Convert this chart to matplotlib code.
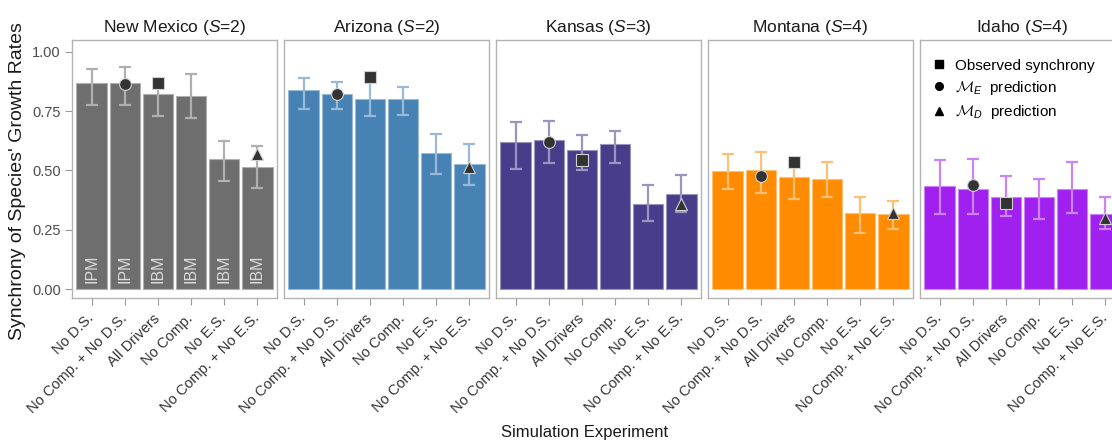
import matplotlib
matplotlib.use("Agg")
import matplotlib.pyplot as plt
from matplotlib.lines import Line2D
import matplotlib.colors as mcolors
import numpy as np

plt.rcParams['font.family'] = ['Liberation Sans', 'DejaVu Sans']
plt.rcParams['mathtext.fontset'] = 'custom'
plt.rcParams['mathtext.rm'] = 'Liberation Sans'
plt.rcParams['mathtext.it'] = 'Liberation Sans:italic'
plt.rcParams['mathtext.cal'] = 'cmsy10'

experiments = ["No D.S.", "No Comp. + No D.S.", "All Drivers", "No Comp.",
               "No E.S.", "No Comp. + No E.S."]
sites = ["New Mexico", "Arizona", "Kansas", "Montana", "Idaho"]
richness = [2, 2, 3, 4, 4]
bar_colors = ["#6e6e6e", "#4682B4", "#483D8B", "#FF8C00", "#A020F0"]
model_labels_nm = ["IPM", "IPM", "IBM", "IBM", "IBM", "IBM"]

bar_values = {
    "New Mexico": [0.867, 0.867, 0.822, 0.813, 0.550, 0.516],
    "Arizona":    [0.839, 0.821, 0.802, 0.802, 0.575, 0.529],
    "Kansas":     [0.620, 0.627, 0.585, 0.613, 0.360, 0.400],
    "Montana":    [0.497, 0.502, 0.473, 0.466, 0.320, 0.318],
    "Idaho":      [0.435, 0.421, 0.387, 0.387, 0.421, 0.317],
}
err_upper = {
    "New Mexico": [0.926, 0.934, 0.870, 0.906, 0.624, 0.603],
    "Arizona":    [0.891, 0.871, 0.880, 0.853, 0.654, 0.610],
    "Kansas":     [0.703, 0.708, 0.651, 0.666, 0.438, 0.482],
    "Montana":    [0.571, 0.577, 0.530, 0.537, 0.390, 0.373],
    "Idaho":      [0.543, 0.547, 0.477, 0.463, 0.534, 0.390],
}
err_lower = {
    "New Mexico": [0.776, 0.776, 0.729, 0.720, 0.457, 0.428],
    "Arizona":    [0.758, 0.758, 0.729, 0.734, 0.485, 0.439],
    "Kansas":     [0.505, 0.530, 0.502, 0.530, 0.289, 0.327],
    "Montana":    [0.421, 0.407, 0.380, 0.390, 0.236, 0.253],
    "Idaho":      [0.317, 0.317, 0.308, 0.296, 0.320, 0.253],
}
observed = {"New Mexico": 0.867, "Arizona": 0.893, "Kansas": 0.544,
            "Montana": 0.534, "Idaho": 0.365}
pred_E = {"New Mexico": 0.862, "Arizona": 0.821, "Kansas": 0.620,
          "Montana": 0.477, "Idaho": 0.439}
pred_D = {"New Mexico": 0.569, "Arizona": 0.516, "Kansas": 0.358,
          "Montana": 0.320, "Idaho": 0.299}

yticks = [0.0, 0.25, 0.5, 0.75, 1.0]
ytick_labels = ["0.00", "0.25", "0.50", "0.75", "1.00"]


def tint(c, f):
    r, g, b = mcolors.to_rgb(c)
    return (r + (1 - r) * f, g + (1 - g) * f, b + (1 - b) * f)


W, H = 1112, 441
fig = plt.figure(figsize=(W / 100, H / 100), dpi=100)

left0, spacing, pw = 72, 212, 205
top_px, bot_px = 40, 298.3
border_col = "#b3b3b3"
x = np.arange(1, 7)

for i, site in enumerate(sites):
    l = left0 + i * spacing
    ax = fig.add_axes([l / W, 1 - bot_px / H, pw / W, (bot_px - top_px) / H])
    col = bar_colors[i]
    vals = np.array(bar_values[site])
    ax.bar(x, vals, width=0.93, color=col, edgecolor=tint(col, 0.45),
           linewidth=0.8, zorder=2)
    up = np.array(err_upper[site])
    lo = np.array(err_lower[site])
    mid = vals
    ax.errorbar(x, mid, yerr=[mid - lo, up - mid], fmt='none',
                ecolor=tint(col, 0.45), elinewidth=1.6, capsize=4.5,
                capthick=1.6, zorder=3)
    ax.plot([3], [observed[site]], marker='s', ms=8, mfc='#333333',
            mec='#d0d0d0', mew=0.8, ls='none', zorder=5)
    ax.plot([2], [pred_E[site]], marker='o', ms=8.5, mfc='#333333',
            mec='#d0d0d0', mew=0.8, ls='none', zorder=5)
    ax.plot([6], [pred_D[site]], marker='^', ms=9, mfc='#333333',
            mec='#d0d0d0', mew=0.8, ls='none', zorder=5)

    ax.set_xlim(0.4, 6.6)
    ax.set_ylim(-0.038, 1.049)
    ax.set_xticks(x)
    ax.set_xticklabels(experiments, rotation=45, ha='right', va='center',
                       rotation_mode='anchor', fontsize=10.5, color='#333333')
    ax.tick_params(axis='x', length=5, color='#999999', pad=8)
    if i == 0:
        ax.set_yticks(yticks)
        ax.set_yticklabels(ytick_labels, fontsize=10.5, color='#4d4d4d')
        ax.tick_params(axis='y', length=5, color='#999999', pad=3)
        for j, lab in enumerate(model_labels_nm):
            ax.text(x[j], 0.025, lab, rotation=90, ha='center', va='bottom',
                    fontsize=11.5, color='#dcdcdc', zorder=4)
    else:
        ax.set_yticks([])
    for sp in ax.spines.values():
        sp.set_color(border_col)
        sp.set_linewidth(1.0)
    ax.set_title(f"{site} ($\\it{{S}}$={richness[i]})", fontsize=12.5,
                 color='#1a1a1a', pad=6)
    if i == 4:
        handles = [
            Line2D([], [], marker='s', color='black', ls='none', ms=5.5),
            Line2D([], [], marker='o', color='black', ls='none', ms=5.5),
            Line2D([], [], marker='^', color='black', ls='none', ms=5.5),
        ]
        labels = ["Observed synchrony", r"$\mathcal{M}_E$  prediction",
                  r"$\mathcal{M}_D$  prediction"]
        ax.legend(handles, labels, loc='upper left',
                  bbox_to_anchor=(0.0, 0.975), frameon=False, fontsize=11,
                  handlelength=0.9, handletextpad=0.6, labelspacing=0.4,
                  borderaxespad=0.4)

fig.text(18 / W, 1 - 181 / H, "Synchrony of Species' Growth Rates",
         rotation=90, ha='center', va='center', fontsize=14, color='#1a1a1a')
fig.text(585 / W, 1 - 432 / H, "Simulation Experiment", ha='center',
         va='center', fontsize=12, color='#1a1a1a')

fig.savefig("out.png", dpi=100)
